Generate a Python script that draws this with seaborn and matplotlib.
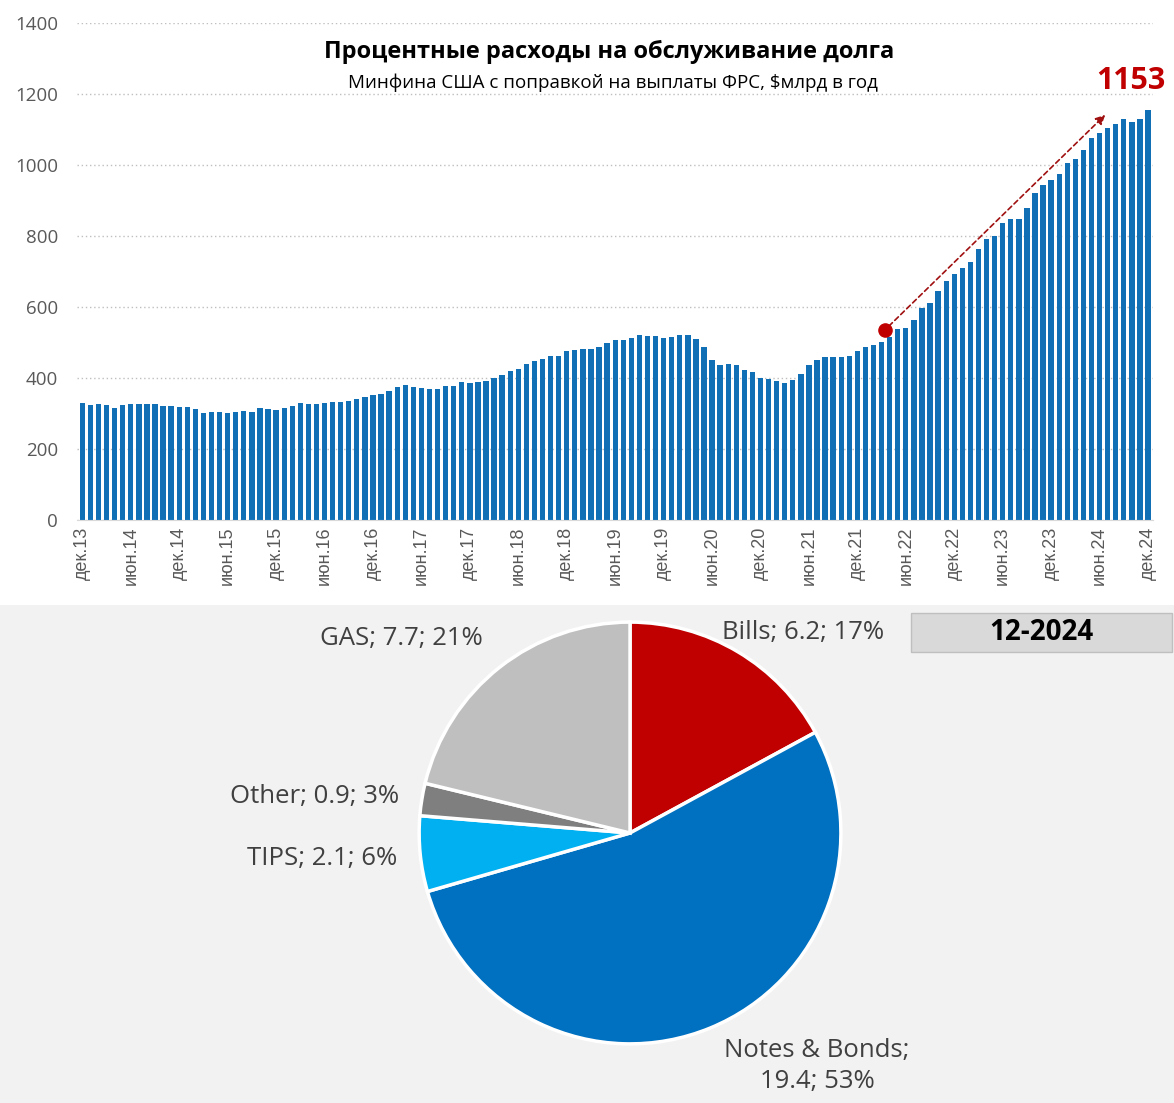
import pandas as pd
import matplotlib.pyplot as plt
import seaborn as sns
from matplotlib.patches import Rectangle

# процентные расходы, $млрд в год, дек.2013 - дек.2024 (помесячно)
values = [329, 323, 326, 323, 315, 323, 326, 326, 326, 326, 320, 320, 317, 317, 312, 301,
          303, 303, 301, 303, 306, 303, 315, 312, 309, 315, 320, 329, 326, 326, 329, 332,
          332, 334, 340, 346, 351, 354, 363, 374, 379, 374, 371, 368, 368, 377, 377, 388,
          385, 388, 391, 399, 408, 419, 424, 439, 447, 453, 461, 461, 475, 478, 481, 481,
          486, 498, 506, 506, 512, 520, 517, 517, 512, 515, 520, 520, 509, 486, 450, 436,
          439, 436, 422, 416, 399, 396, 391, 385, 393, 410, 436, 450, 458, 458, 458, 461,
          475, 487, 492, 500, 514, 537, 540, 562, 596, 610, 644, 672, 692, 709, 726, 763,
          791, 799, 836, 847, 847, 878, 921, 943, 957, 974, 1005, 1017, 1042, 1076, 1090, 1104,
          1115, 1127, 1121, 1127, 1153]

tick_labels = ['дек.13', 'июн.14', 'дек.14', 'июн.15', 'дек.15', 'июн.16', 'дек.16', 'июн.17',
               'дек.17', 'июн.18', 'дек.18', 'июн.19', 'дек.19', 'июн.20', 'дек.20', 'июн.21',
               'дек.21', 'июн.22', 'дек.22', 'июн.23', 'дек.23', 'июн.24', 'дек.24']

# точка старта стрелки и её конец (индекс месяца, значение)
dot = (99.4, 534)
arrow_end = (126.7, 1140)

# структура расходов на 12-2024
pie_names = ['Bills', 'Notes & Bonds', 'TIPS', 'Other', 'GAS']
pie_values = [6.2, 19.4, 2.1, 0.9, 7.7]
pie_pct = [17, 53, 6, 3, 21]
pie_colors = ['#c00000', '#0070c0', '#00b0f0', '#7f7f7f', '#bfbfbf']

sns.set_style('white')
plt.rcParams['font.family'] = ['Open Sans', 'DejaVu Sans']

months = ['m%d' % i for i in range(len(values))]
df = pd.DataFrame({'month': months, 'value': values})

fig = plt.figure(figsize=(11.74, 11.03), dpi=100)

# серый фон нижней части
fig.patches.append(Rectangle((0, 0), 1, 0.4515, transform=fig.transFigure,
                             facecolor='#f2f2f2', edgecolor='none', zorder=-10))

ax = fig.add_axes([0.066, 0.5288, 0.916, 0.4508])
sns.barplot(data=df, x='month', y='value', color='#116fb6', width=0.66,
            saturation=1, linewidth=0, edgecolor='none', ax=ax)
ax.set_xlim(-0.6, len(values) - 0.4)
ax.set_ylim(0, 1400)
ax.set_yticks(range(0, 1401, 200))
ax.tick_params(axis='y', labelsize=13.5, labelcolor='#595959', length=0, pad=14)
ax.set_xticks(range(0, len(values), 6))
ax.set_xticklabels(tick_labels, rotation=90, fontsize=13, color='#595959',
                   family=['Liberation Sans', 'DejaVu Sans'])
ax.tick_params(axis='x', length=0, pad=5)
ax.set_xlabel('')
ax.set_ylabel('')
ax.grid(axis='y', linestyle=(0, (1, 2)), color='#bfbfbf', linewidth=1)
ax.set_axisbelow(True)
for s in ['top', 'right', 'left']:
    ax.spines[s].set_visible(False)
ax.spines['bottom'].set_color('#d9d9d9')

ax.annotate('', xy=arrow_end, xytext=dot,
            arrowprops=dict(arrowstyle='-|>', color='#a01010', linestyle=(0, (3, 2)),
                            lw=1.2, mutation_scale=14, shrinkA=4, shrinkB=0))
ax.scatter([dot[0]], [dot[1]], s=90, color='#c00000', zorder=5)

fig.text(0.519, 0.953, 'Процентные расходы на обслуживание долга',
         ha='center', va='center', fontsize=17, fontweight='bold', color='black')
fig.text(0.522, 0.925, 'Минфина США с поправкой на выплаты ФРС, $млрд в год',
         ha='center', va='center', fontsize=13.5, color='black')
fig.text(0.9925, 0.927, '%d' % values[-1], ha='right', va='center',
         fontsize=22, fontweight='bold', color='#c00000')

# круговая диаграмма
pax = fig.add_axes([0.3552, 0.0517, 0.3629, 0.3862])
pax.pie(pie_values, colors=pie_colors, startangle=90, counterclock=False,
        wedgeprops=dict(edgecolor='white', linewidth=2.5))
pax.set_xlim(-1.01, 1.01)
pax.set_ylim(-1.01, 1.01)
pax.set_aspect('equal')

labels = ['%s; %.1f; %d%%' % (n, v, p) for n, v, p in zip(pie_names, pie_values, pie_pct)]
labels[1] = '%s;\n%.1f; %d%%' % (pie_names[1], pie_values[1], pie_pct[1])
label_pos = [(803, 632, 'center'), (817, 1066, 'center'), (397, 858, 'right'),
             (399, 797, 'right'), (483, 638, 'right')]
for lab, (px, py, ha) in zip(labels, label_pos):
    fig.text(px / 1174, 1 - py / 1103, lab, ha=ha, va='center', fontsize=18.5,
             color='#404040', linespacing=1.35)

fig.patches.append(Rectangle((911 / 1174, 1 - 652 / 1103), 261 / 1174, 39 / 1103,
                             transform=fig.transFigure, facecolor='#d9d9d9',
                             edgecolor='#bfbfbf', linewidth=1))
fig.text(1041 / 1174, 1 - 633 / 1103, '12-2024', ha='center', va='center',
         fontsize=20, fontweight='bold', color='black')

fig.savefig('out.png', dpi=100)
